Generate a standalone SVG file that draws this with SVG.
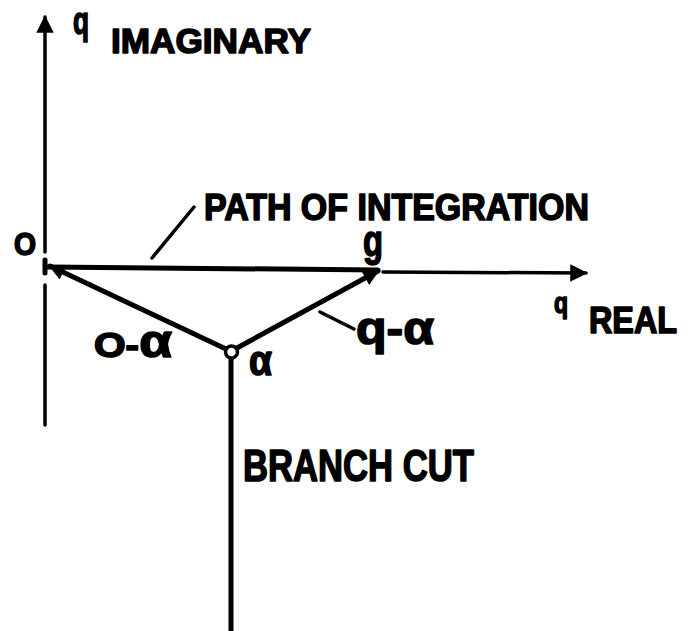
<svg xmlns="http://www.w3.org/2000/svg" width="688" height="631" viewBox="0 0 688 631">
<defs>
<style>
.t{font-family:"Liberation Sans","DejaVu Sans",Arial,sans-serif;font-weight:bold;fill:#000;stroke:#000;stroke-width:1.6;stroke-linejoin:round}
.ax{stroke:#000;stroke-width:3.5;fill:none;stroke-linecap:round}
.pl{stroke:#000;stroke-width:5;fill:none;stroke-linecap:round}
.ld{stroke:#000;stroke-width:3.5;fill:none;stroke-linecap:round}
</style>
<marker id="ah" viewBox="0 0 10 10" refX="9" refY="5" markerWidth="7" markerHeight="5" markerUnits="strokeWidth" orient="auto">
<path d="M0,0 L10,5 L0,10 Z" fill="#000"/>
</marker>
<marker id="ah2" viewBox="0 0 10 10" refX="9" refY="5" markerWidth="5.5" markerHeight="3.2" markerUnits="strokeWidth" orient="auto">
<path d="M0,0 L10,5 L0,10 Z" fill="#000"/>
</marker>
</defs>
<rect width="688" height="631" fill="#fff"/>
<g id="connectors">
<line id="imag-axis" class="ax" x1="45" y1="252" x2="45" y2="17" marker-end="url(#ah)"/>
<line id="imag-axis-low" class="ax" x1="45" y1="285" x2="45" y2="425"/>
<line id="real-axis" class="ax" x1="383" y1="272" x2="586" y2="273" marker-end="url(#ah)"/>
<line id="path" class="pl" x1="48" y1="267" x2="378" y2="270"/>
<line id="alpha-to-O" class="pl" x1="226" y1="349" x2="50" y2="266" marker-end="url(#ah2)"/>
<line id="alpha-to-q" class="pl" x1="237" y1="348" x2="378" y2="271" marker-end="url(#ah2)"/>
<line id="branch-cut" class="pl" x1="231" y1="359" x2="231" y2="631"/>
<line id="path-leader" class="ld" x1="152" y1="258" x2="194" y2="207"/>
<line id="qa-leader" class="ld" x1="320" y1="312" x2="354" y2="329"/>
</g>
<g id="origin">
<line x1="45" y1="260" x2="45" y2="273" stroke="#000" stroke-width="5" stroke-linecap="round"/>
<text class="t" x="14" y="255" font-size="31" textLength="22" lengthAdjust="spacingAndGlyphs">O</text>
</g>
<g id="q-point">
<text class="t" x="363" y="256" font-size="44" textLength="20" lengthAdjust="spacingAndGlyphs">g</text>
</g>
<g id="alpha">
<circle cx="231.5" cy="352" r="6" fill="#fff" stroke="#000" stroke-width="3.5"/>
<text class="t" x="249" y="375" font-size="42" textLength="23" lengthAdjust="spacingAndGlyphs">α</text>
</g>
<g id="labels">
<text class="t" x="73" y="34" font-size="38" textLength="16" lengthAdjust="spacingAndGlyphs">q</text>
<text class="t" x="111" y="53" font-size="35" textLength="200" lengthAdjust="spacingAndGlyphs">IMAGINARY</text>
<text class="t" x="204" y="220" font-size="37" textLength="385" lengthAdjust="spacingAndGlyphs">PATH OF INTEGRATION</text>
<text class="t" x="554" y="313" font-size="29" textLength="14" lengthAdjust="spacingAndGlyphs">q</text>
<text class="t" x="589" y="333" font-size="36" textLength="88" lengthAdjust="spacingAndGlyphs">REAL</text>
<text class="t" x="94" y="357" font-size="35" textLength="78" lengthAdjust="spacingAndGlyphs"><tspan>O-</tspan><tspan font-size="46">α</tspan></text>
<text class="t" x="356" y="344" font-size="46" textLength="78" lengthAdjust="spacingAndGlyphs">q-α</text>
<text class="t" x="243" y="481" font-size="44" textLength="231" lengthAdjust="spacingAndGlyphs">BRANCH CUT</text>
</g>
</svg>
